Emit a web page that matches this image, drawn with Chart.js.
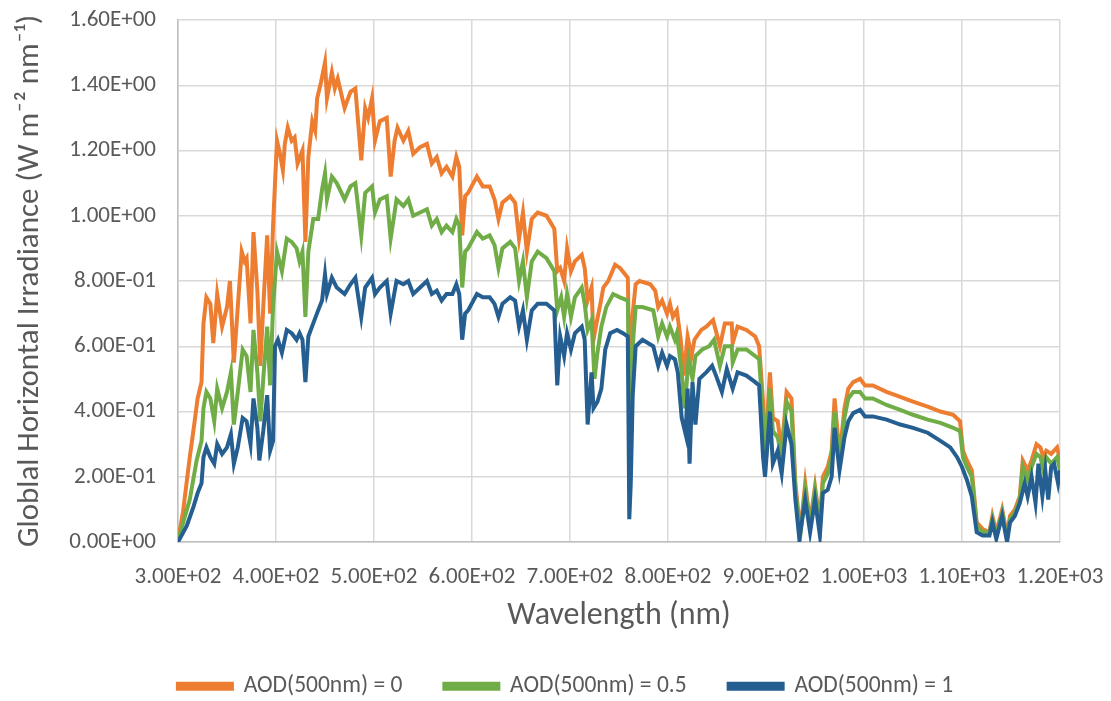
<!DOCTYPE html>
<html>
<head>
<meta charset="utf-8">
<script src="https://cdn.jsdelivr.net/npm/chart.js@4"></script>
<style>
  html,body{margin:0;padding:0;background:#fff;}
  #wrap{width:1111px;height:701px;}
</style>
</head>
<body>
<div id="wrap"><canvas id="chartIrr" width="1111" height="701"></canvas></div>
<script>
// Spectral irradiance for three aerosol optical depths
const wlOrange = [300,305,312,317,320,324,326,329,333,336,340,345,350,353,357,361,365,368,370,374,377,381,384,387,391,394,397,401,404,407,409,412,416,419,422,427,430,433,437,440,442,446,450,452,457,460,463,470,476,481,487,491,494,498,501,506,513,517,521,524,530,535,540,547,554,559,564,569,574,580,584,587,590,593,596,605,611,618,623,627,631,639,644,648,652,656,661,667,676,684,687,690,694,697,701,705,712,715,718,722,724,727,731,734,739,746,751,759,761,764,767,771,782,787,790,794,799,802,805,809,813,816,820,824,827,834,839,846,853,858,865,866,871,880,889,893,897,899,904,907,912,916,921,926,930,935,940,945,950,955,958,963,967,970,974,977,980,984,989,996,1001,1009,1023,1037,1050,1065,1078,1091,1098,1101,1105,1110,1115,1121,1128,1131,1135,1141,1146,1149,1154,1159,1162,1167,1171,1176,1180,1183,1186,1191,1197,1200];
const irrOrange = [0.006,0.09,0.26,0.37,0.44,0.49,0.67,0.75,0.73,0.61,0.76,0.66,0.72,0.80,0.55,0.72,0.89,0.86,0.87,0.67,0.95,0.77,0.54,0.72,0.94,0.70,0.97,1.23,1.19,1.14,1.22,1.27,1.23,1.24,1.16,1.20,0.92,1.18,1.29,1.26,1.36,1.41,1.47,1.36,1.44,1.39,1.42,1.33,1.38,1.39,1.17,1.33,1.30,1.36,1.23,1.29,1.30,1.12,1.23,1.27,1.23,1.26,1.19,1.21,1.22,1.16,1.18,1.13,1.15,1.12,1.18,1.15,0.94,1.06,1.07,1.12,1.09,1.09,1.05,0.99,1.04,1.06,1.04,0.93,1.01,0.89,0.99,1.01,1.00,0.96,0.83,0.84,0.80,0.90,0.83,0.86,0.88,0.84,0.74,0.78,0.62,0.67,0.73,0.78,0.80,0.85,0.84,0.81,0.48,0.70,0.79,0.80,0.79,0.77,0.72,0.74,0.70,0.73,0.69,0.71,0.62,0.51,0.63,0.57,0.62,0.65,0.66,0.68,0.60,0.67,0.67,0.61,0.66,0.65,0.63,0.60,0.43,0.26,0.52,0.38,0.37,0.28,0.46,0.44,0.18,0.03,0.18,0.06,0.17,0.06,0.20,0.23,0.28,0.44,0.30,0.32,0.41,0.47,0.49,0.50,0.48,0.48,0.46,0.445,0.43,0.415,0.40,0.39,0.37,0.28,0.25,0.22,0.06,0.04,0.03,0.08,0.03,0.10,0.02,0.08,0.10,0.14,0.25,0.22,0.25,0.30,0.29,0.26,0.28,0.27,0.29,0.25];

const wlGreen = [300,312,319,324,326,329,333,337,340,345,350,354,357,361,366,370,374,377,381,384,387,391,394,397,401,406,411,416,421,424,427,430,433,438,443,447,450,452,457,462,470,476,481,487,491,498,501,506,513,517,523,530,535,540,547,554,559,564,569,574,580,584,587,590,593,596,605,611,618,623,627,631,639,644,648,652,656,661,667,676,684,687,691,694,697,701,705,712,715,718,722,725,728,732,737,744,751,759,761,764,767,774,785,790,794,799,802,807,809,814,817,821,825,828,835,842,847,853,858,865,866,871,880,889,893,897,899,904,907,912,916,921,926,930,935,940,945,950,955,958,963,967,970,974,977,980,984,989,996,1001,1009,1023,1037,1050,1065,1078,1091,1098,1101,1105,1110,1115,1121,1128,1131,1135,1141,1146,1149,1154,1159,1162,1167,1171,1176,1180,1183,1186,1191,1197,1200];
const irrGreen = [0.005,0.13,0.25,0.31,0.41,0.46,0.44,0.37,0.47,0.41,0.46,0.52,0.36,0.46,0.59,0.57,0.46,0.65,0.52,0.37,0.50,0.66,0.48,0.72,0.89,0.83,0.93,0.92,0.90,0.86,0.89,0.69,0.89,0.99,0.99,1.08,1.13,1.05,1.12,1.10,1.05,1.09,1.10,0.94,1.07,1.09,1.01,1.05,1.06,0.93,1.05,1.03,1.05,1.00,1.01,1.02,0.97,0.99,0.95,0.97,0.95,0.99,0.97,0.78,0.89,0.90,0.95,0.93,0.94,0.91,0.84,0.90,0.92,0.90,0.80,0.86,0.75,0.86,0.89,0.87,0.83,0.71,0.75,0.69,0.76,0.69,0.75,0.78,0.73,0.65,0.68,0.50,0.58,0.66,0.72,0.76,0.75,0.74,0.34,0.60,0.72,0.72,0.71,0.63,0.67,0.63,0.66,0.62,0.64,0.52,0.41,0.56,0.50,0.57,0.59,0.60,0.62,0.54,0.60,0.60,0.55,0.59,0.59,0.57,0.56,0.38,0.24,0.47,0.34,0.32,0.26,0.43,0.40,0.16,0.02,0.16,0.05,0.16,0.05,0.18,0.21,0.26,0.40,0.27,0.29,0.38,0.44,0.46,0.46,0.44,0.44,0.42,0.405,0.39,0.375,0.365,0.35,0.34,0.26,0.23,0.20,0.05,0.03,0.03,0.07,0.02,0.09,0.01,0.07,0.09,0.13,0.23,0.19,0.23,0.27,0.26,0.22,0.26,0.24,0.26,0.22];

const wlBlue = [300,309,316,320,324,326,329,333,337,340,345,350,354,357,361,366,370,374,377,381,383,387,391,394,397,399,402,406,411,416,421,424,427,430,433,438,443,447,450,452,457,462,470,476,481,487,491,498,501,506,513,517,523,530,535,540,547,554,559,564,569,574,580,584,587,590,593,596,605,611,618,623,627,631,639,644,648,652,656,661,667,676,684,687,690,694,697,701,705,712,715,718,722,724,728,732,736,741,748,754,759,760.5,762,764,767,774,785,790,794,799,802,807,810,814,818,820,822,825,828,832,839,845,849,855,860,866,871,880,889,893,897,899,904,907,912,916,921,926,930,934,940,945,950,955,958,963,967,970,975,980,984,989,996,1001,1009,1023,1037,1050,1065,1078,1088,1095,1100,1105,1110,1115,1121,1128,1131,1135,1141,1146,1149,1154,1159,1164,1167,1171,1175,1178,1182,1185,1188,1191,1194,1198,1200];
const irrBlue = [0.0,0.05,0.11,0.15,0.18,0.26,0.29,0.26,0.24,0.30,0.27,0.29,0.33,0.24,0.29,0.38,0.37,0.30,0.44,0.35,0.25,0.34,0.45,0.28,0.31,0.60,0.62,0.58,0.65,0.64,0.62,0.64,0.62,0.49,0.63,0.67,0.71,0.74,0.82,0.76,0.81,0.78,0.76,0.79,0.81,0.69,0.78,0.81,0.76,0.78,0.80,0.70,0.80,0.79,0.80,0.76,0.78,0.80,0.76,0.77,0.74,0.76,0.76,0.79,0.76,0.62,0.70,0.71,0.76,0.75,0.75,0.73,0.69,0.73,0.75,0.74,0.66,0.71,0.62,0.71,0.73,0.73,0.71,0.48,0.63,0.57,0.64,0.59,0.64,0.66,0.62,0.36,0.52,0.41,0.43,0.47,0.59,0.64,0.65,0.64,0.63,0.07,0.18,0.45,0.60,0.62,0.60,0.54,0.58,0.54,0.57,0.56,0.52,0.38,0.33,0.47,0.24,0.49,0.36,0.50,0.52,0.54,0.51,0.46,0.53,0.47,0.52,0.51,0.49,0.48,0.26,0.20,0.40,0.24,0.28,0.21,0.36,0.30,0.13,0.01,0.13,0.03,0.13,0.02,0.15,0.16,0.20,0.35,0.22,0.32,0.37,0.395,0.405,0.385,0.385,0.375,0.36,0.35,0.335,0.31,0.29,0.26,0.23,0.19,0.14,0.03,0.02,0.02,0.06,0.01,0.08,0.0,0.06,0.08,0.12,0.18,0.14,0.20,0.12,0.24,0.14,0.22,0.13,0.23,0.24,0.18,0.22];

const seriesNames = ['AOD(500nm) = 0','AOD(500nm) = 0.5','AOD(500nm) = 1'];
const seriesColors = ['#ED7D31','#70AD47','#255E91'];

const FONT = "Carlito, Calibri, Lato, 'Open Sans', sans-serif";
const TXT = '#595959';

function sci(v) {
  const parts = Number(v).toExponential(2).split('e');
  const e = parseInt(parts[1], 10);
  return parts[0] + 'E' + (e < 0 ? '-' : '+') + String(Math.abs(e)).padStart(2, '0');
}
function pts(xs, ys) { return xs.map((x, i) => ({x: x, y: ys[i]})); }

const sets = [[wlOrange, irrOrange], [wlGreen, irrGreen], [wlBlue, irrBlue]].map((s, i) => ({
  label: seriesNames[i],
  data: pts(s[0], s[1]),
  borderColor: seriesColors[i],
  backgroundColor: seriesColors[i],
  borderWidth: 4,
  pointRadius: 0,
  tension: 0,
  order: 3 - i   // blue drawn last, on top
}));

new Chart(document.getElementById('chartIrr'), {
  type: 'line',
  data: { datasets: sets },
  options: {
    responsive: false,
    animation: false,
    layout: { padding: { top: 20, right: 0, bottom: -7, left: 20 } },
    plugins: {
      tooltip: { enabled: false },
      legend: {
        position: 'bottom',
        labels: {
          sort: (a, b) => a.datasetIndex - b.datasetIndex,
          boxWidth: 54, boxHeight: 5,
          padding: 42,
          color: TXT,
          font: { family: FONT, size: 23.5 }
        }
      }
    },
    scales: {
      x: {
        type: 'linear',
        min: 300, max: 1200,
        // fixed axis band; tick padding must not push the plot edges
        afterFit: s => { s.height = 90.5; s.paddingLeft = 0; s.paddingRight = 51; },
        ticks: { stepSize: 100, autoSkip: false, maxRotation: 0, color: TXT, padding: 21,
          font: { family: FONT, size: 23 }, callback: v => sci(v) },
        grid: { color: '#d9d9d9', lineWidth: 1.5, drawTicks: false },
        border: { color: '#bfbfbf', width: 1.5 },
        title: { display: true, text: 'Wavelength (nm)', color: TXT,
          font: { family: FONT, size: 32 }, padding: { top: 0, bottom: -3 } }
      },
      y: {
        min: 0, max: 1.6,
        afterFit: s => { s.width = 158; s.paddingTop = 0; s.paddingBottom = 0; },
        ticks: { stepSize: 0.2, color: TXT, padding: 22,
          font: { family: FONT, size: 23 }, callback: v => sci(v) },
        grid: { color: '#d9d9d9', lineWidth: 1.5, drawTicks: false },
        border: { color: '#bfbfbf', width: 1.5 },
        title: { display: true, text: 'Globlal Horizontal Irradiance (W m\u207B\u00B2 nm\u207B\u00B9)', color: TXT,
          font: { family: FONT, size: 31 }, padding: { top: -8, bottom: 0 } }
      }
    }
  }
});
</script>
</body>
</html>
